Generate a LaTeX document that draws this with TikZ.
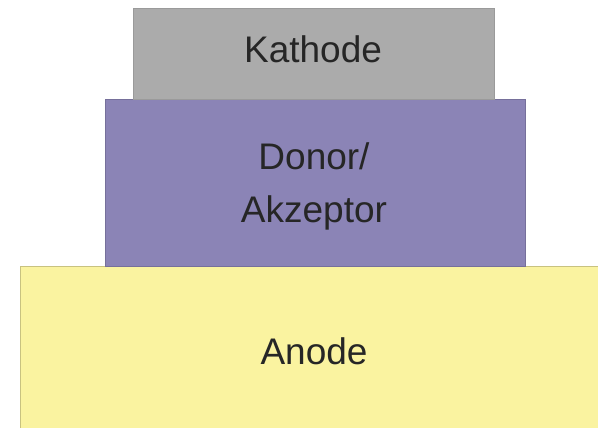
\documentclass[tikz,border=0pt]{standalone}
\usepackage{fontspec}
\setmainfont{Liberation Sans}
\begin{document}
\begin{tikzpicture}[x=1pt,y=-1pt,
  lbl/.style={text=black!85, font=\fontsize{37}{53}\selectfont, align=center, inner sep=0pt}]
\definecolor{kgray}{HTML}{ABABAB}
\definecolor{dpurple}{HTML}{8B84B6}
\definecolor{ayellow}{HTML}{FAF3A0}
\useasboundingbox (0,0) rectangle (598,428);
\fill[white] (0,0) rectangle (598,428);
\filldraw[fill=ayellow, draw=ayellow!80!black, line width=0.8pt] (20,266) rectangle (600,430);
\filldraw[fill=dpurple, draw=dpurple!85!black, line width=0.8pt] (105,99) rectangle (525,266);
\filldraw[fill=kgray, draw=kgray!90!black, line width=0.8pt] (133,8) rectangle (494,99);
\node[lbl] (k) at (313,49) {Kathode};
\node[lbl] (d) at (314,186) {Donor/\\Akzeptor};
\node[lbl] (a) at (314,351) {Anode};
\end{tikzpicture}
\end{document}
